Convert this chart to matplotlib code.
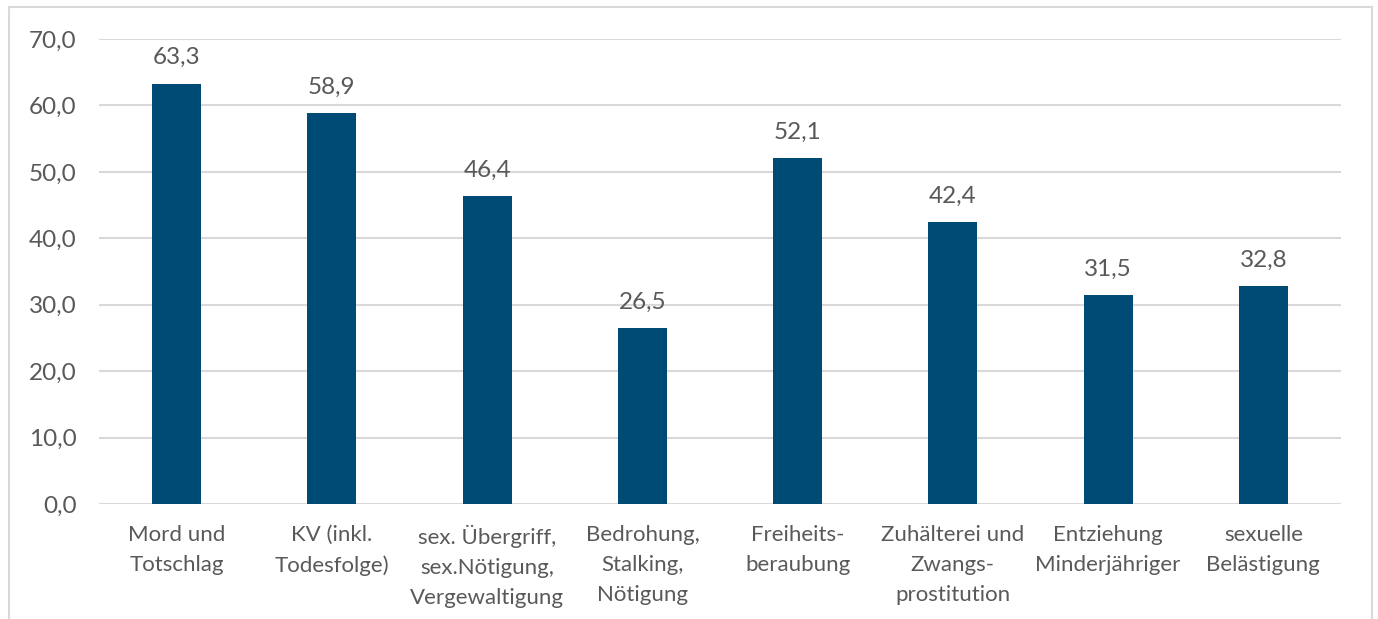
import matplotlib.pyplot as plt
from matplotlib.patches import Rectangle

categories = ["Mord und\nTotschlag", "KV (inkl.\nTodesfolge)",
              "sex. Übergriff,\nsex.Nötigung,\nVergewaltigung",
              "Bedrohung,\nStalking,\nNötigung", "Freiheits-\nberaubung",
              "Zuhälterei und\nZwangs-\nprostitution",
              "Entziehung\nMinderjähriger", "sexuelle\nBelästigung"]
values = [63.3, 58.9, 46.4, 26.5, 52.1, 42.4, 31.5, 32.8]
yticks = [0, 10, 20, 30, 40, 50, 60, 70]

plt.rcParams['font.family'] = ['Lato', 'DejaVu Sans']
grey = "#595959"

fig = plt.figure(figsize=(13.78, 6.19), dpi=100)
ax = fig.add_axes([99/1378, 1 - 504/619, 1242/1378, 465/619])

x = range(len(values))
ax.bar(x, values, width=0.316, color="#004B76", zorder=3)
for i, v in zip(x, values):
    ax.text(i, v + 2.3, f"{v:.1f}".replace(".", ","), ha="center", va="bottom",
            fontsize=17.5, color=grey)

ax.set_xlim(-0.5, len(values) - 0.5)
ax.set_ylim(0, 70)
ax.set_yticks(yticks)
ax.set_yticklabels([f"{t:.1f}".replace(".", ",") for t in yticks])
ax.set_xticks(list(x))
ax.set_xticklabels(categories, linespacing=1.62)
ax.tick_params(axis="y", length=0, pad=16, labelsize=17.5, labelcolor=grey)
ax.tick_params(axis="x", length=0, pad=15, labelsize=16, labelcolor=grey)
for lbl in ax.get_xticklabels():
    lbl.set_verticalalignment("top")
ax.grid(axis="y", color="#D9D9D9", linewidth=1.5, zorder=0)
for s in ax.spines.values():
    s.set_visible(False)

fig.patches.append(Rectangle((9/1378, -0.1), 1363/1378, 1.1 - 7/619,
                             transform=fig.transFigure, fill=False,
                             edgecolor="#D9D9D9", linewidth=1.5))

fig.savefig("out.png", dpi=100)
